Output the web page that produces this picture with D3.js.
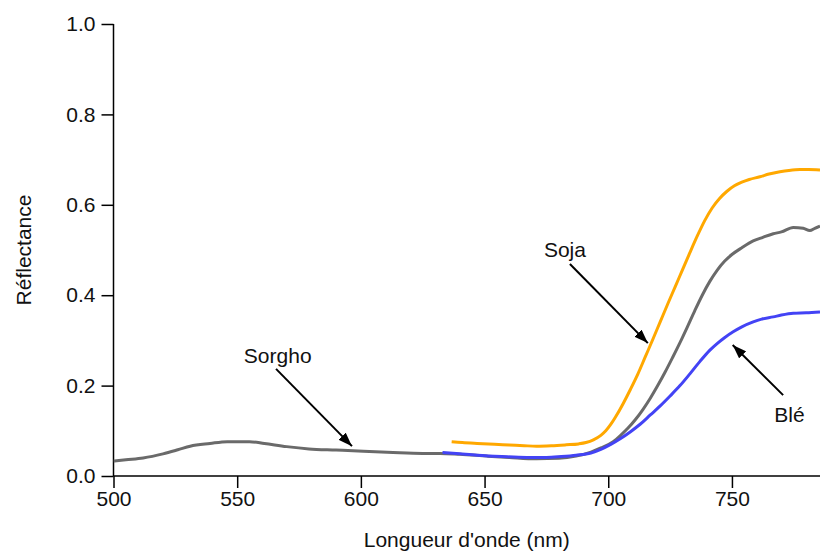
<!DOCTYPE html>
<html>
<head>
<meta charset="utf-8">
<script src="https://cdn.jsdelivr.net/npm/d3@7"></script>
<style>
  html, body { margin: 0; padding: 0; background: #fff; }
  svg { display: block; font-family: "Liberation Sans", Arial, sans-serif; }
</style>
</head>
<body>
<svg id="chart" width="820" height="551"></svg>
<script>
// ---- Data ----
const xTicks = [500, 550, 600, 650, 700, 750];
const yTicks = [0.0, 0.2, 0.4, 0.6, 0.8, 1.0];

const sorghoWl = [500, 505, 512, 520, 526, 531, 539, 546, 555, 561, 570, 579, 590, 601, 613, 625, 632, 640, 651, 660, 671, 680, 687, 693, 697, 702, 705, 708, 711, 714, 717, 720, 723, 726, 729, 732, 735, 738, 741, 744, 747, 750, 754, 758.6, 762, 766.7, 770, 774.8, 778.8, 781.5, 783.5, 785.6];
const sorghoR  = [0.033, 0.036, 0.040, 0.049, 0.058, 0.066, 0.072, 0.076, 0.076, 0.072, 0.065, 0.060, 0.0575, 0.055, 0.052, 0.050, 0.050, 0.048, 0.044, 0.041, 0.038, 0.039, 0.044, 0.053, 0.062, 0.076, 0.090, 0.106, 0.125, 0.147, 0.172, 0.200, 0.230, 0.262, 0.295, 0.330, 0.366, 0.400, 0.430, 0.455, 0.475, 0.490, 0.505, 0.520, 0.527, 0.536, 0.540, 0.550, 0.548, 0.543, 0.548, 0.553];

const bleWl = [633, 640, 647, 657, 667, 675, 681, 687, 693, 697, 701, 705, 709, 713, 717, 721, 725, 729, 733, 737, 741, 744, 747, 750.5, 754, 758.6, 762, 766.7, 770, 774.8, 780, 785.6];
const bleR  = [0.052, 0.049, 0.046, 0.043, 0.041, 0.041, 0.043, 0.046, 0.051, 0.059, 0.070, 0.083, 0.098, 0.115, 0.135, 0.155, 0.177, 0.200, 0.226, 0.253, 0.278, 0.293, 0.306, 0.319, 0.330, 0.341, 0.347, 0.352, 0.356, 0.360, 0.361, 0.363];

const sojaWl = [636.7, 641, 647, 654, 660, 666, 671, 677, 683, 688, 691, 694, 697, 699, 701, 703, 706, 709, 712, 715, 718, 721, 724, 727, 730, 733, 736, 739, 742, 745, 748, 751, 754, 757, 761.3, 765, 769.4, 773, 777.5, 781, 785.6];
const sojaR  = [0.076, 0.074, 0.072, 0.070, 0.0686, 0.067, 0.066, 0.067, 0.069, 0.071, 0.074, 0.080, 0.090, 0.100, 0.114, 0.131, 0.160, 0.192, 0.226, 0.264, 0.302, 0.341, 0.380, 0.418, 0.456, 0.494, 0.531, 0.565, 0.593, 0.614, 0.630, 0.642, 0.650, 0.656, 0.662, 0.668, 0.673, 0.676, 0.678, 0.678, 0.677];

const seriesNames  = ["Sorgho", "Blé", "Soja"];
const seriesColors = ["#6a6a6a", "#4343f5", "#ffa800"];

// annotations: label position and arrow (from -> to), in data units
const annLabels = ["Soja", "Sorgho", "Blé"];
const annTextX  = [674.0, 552.7, 767.1];
const annTextY  = [0.485, 0.250, 0.120];
const annFromX  = [684.5, 565.7, 770.7];
const annFromY  = [0.469, 0.237, 0.179];
const annToX    = [716.0, 596.4, 750.3];
const annToY    = [0.294, 0.066, 0.290];

// ---- Chart ----
const svg = d3.select("#chart");
const x = d3.scaleLinear().domain([500, 785.6]).range([113.5, 820]);
const y = d3.scaleLinear().domain([0, 1]).range([476, 24]);

const fontSize = 21;

// arrow marker
svg.append("defs").append("marker")
  .attr("id", "ah")
  .attr("viewBox", "0 0 14 10")
  .attr("refX", 14).attr("refY", 5)
  .attr("markerWidth", 14).attr("markerHeight", 10)
  .attr("markerUnits", "userSpaceOnUse")
  .attr("orient", "auto")
  .append("path").attr("d", "M0,0 L14,5 L0,10 Z").attr("fill", "#000");

svg.append("clipPath").attr("id", "plotclip")
  .append("rect").attr("x", 113.5).attr("y", 0).attr("width", 820 - 113.5).attr("height", 476);

// axes
const xAxis = d3.axisBottom(x).tickValues(xTicks).tickSize(12).tickPadding(3).tickFormat(d3.format("d"));
const yAxis = d3.axisLeft(y).tickValues(yTicks).tickSize(12).tickPadding(6).tickFormat(d3.format(".1f"));

const gx = svg.append("g").attr("transform", "translate(0,476)").call(xAxis);
const gy = svg.append("g").attr("transform", "translate(113.5,0)").call(yAxis);
[gx, gy].forEach(g => {
  g.select(".domain").attr("stroke", "#000").attr("stroke-width", 1.5);
  g.selectAll(".tick line").attr("stroke", "#000").attr("stroke-width", 1.5);
  g.selectAll(".tick text").attr("fill", "#111").style("font-size", fontSize + "px")
    .style("font-family", "'Liberation Sans', Arial, sans-serif");
});
gx.select(".domain").attr("d", `M${x.range()[0]},0H${x.range()[1]}`);
gy.select(".domain").attr("d", `M0,${y(0)}V${y(1)}`);

// axis titles
svg.append("text")
  .attr("x", (113.5 + 820) / 2).attr("y", 547)
  .attr("text-anchor", "middle").attr("fill", "#111")
  .style("font-size", fontSize + "px")
  .text("Longueur d'onde (nm)");
svg.append("text")
  .attr("transform", "translate(31,250) rotate(-90)")
  .attr("text-anchor", "middle").attr("fill", "#111")
  .style("font-size", fontSize + "px")
  .text("Réflectance");

// series
const line = d3.line().x(d => x(d[0])).y(d => y(d[1])).curve(d3.curveMonotoneX);
const seriesData = [
  d3.zip(sorghoWl, sorghoR),
  d3.zip(bleWl, bleR),
  d3.zip(sojaWl, sojaR)
];
const plot = svg.append("g").attr("clip-path", "url(#plotclip)");
plot.selectAll("path.series").data(seriesData).join("path")
  .attr("class", "series")
  .attr("d", line)
  .attr("fill", "none")
  .attr("stroke", (d, i) => seriesColors[i])
  .attr("stroke-width", 3)
  .attr("stroke-linejoin", "round");

// annotations
const ann = svg.append("g");
annLabels.forEach((lab, i) => {
  ann.append("text")
    .attr("x", x(annTextX[i])).attr("y", y(annTextY[i]))
    .attr("fill", "#111").style("font-size", fontSize + "px")
    .text(lab);
  ann.append("line")
    .attr("x1", x(annFromX[i])).attr("y1", y(annFromY[i]))
    .attr("x2", x(annToX[i])).attr("y2", y(annToY[i]))
    .attr("stroke", "#000").attr("stroke-width", 2)
    .attr("marker-end", "url(#ah)");
});
</script>
</body>
</html>
